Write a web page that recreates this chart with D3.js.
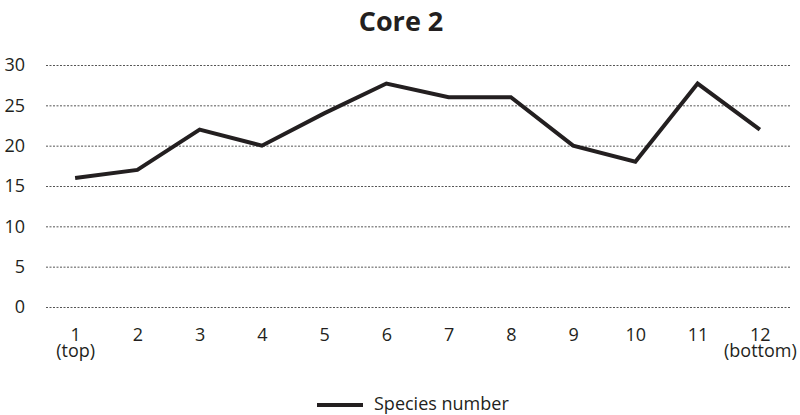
<!DOCTYPE html>
<html>
<head>
<meta charset="utf-8">
<script src="https://cdn.jsdelivr.net/npm/d3@7"></script>
<style>
  html, body { margin: 0; padding: 0; background: #fff; }
  svg { display: block; font-family: "Open Sans", "Noto Sans", sans-serif; }
</style>
</head>
<body>
<svg id="chart" width="800" height="415"></svg>
<script>
// Sample positions down the core and the species count at each
const samples = ["1", "2", "3", "4", "5", "6", "7", "8", "9", "10", "11", "12"];
const sampleNotes = ["(top)", "", "", "", "", "", "", "", "", "", "", "(bottom)"];
const speciesNumber = [16, 17, 22, 20, 24, 27.7, 26, 26, 20, 18, 27.7, 22];
const yTicks = [0, 5, 10, 15, 20, 25, 30];
const titleText = "Core 2";
const seriesName = "Species number";

const ink = "#231f20";
const svg = d3.select("#chart");

const x = d3.scalePoint().domain(samples).range([44, 791]).padding(0.5);
const y = d3.scaleLinear().domain([0, 30]).range([307, 65]);

// Title
svg.append("text")
  .attr("x", 401).attr("y", 31)
  .attr("text-anchor", "middle")
  .attr("font-size", 27).attr("font-weight", 700)
  .attr("fill", ink)
  .text(titleText);

// Horizontal dotted gridlines with value labels
const yAxis = d3.axisLeft(y).tickValues(yTicks).tickSize(-(791 - 46)).tickPadding(21);
const gy = svg.append("g").attr("transform", "translate(46,0)").call(yAxis)
  .attr("font-family", null).attr("font-size", null);
gy.select(".domain").remove();
gy.selectAll(".tick line")
  .attr("stroke", "#555").attr("stroke-width", 1)
  .attr("stroke-dasharray", "2,1.5");
gy.selectAll(".tick text")
  .attr("font-size", 18).attr("fill", ink);

// Category labels along the bottom, with the top/bottom notes on a second row
const xAxis = d3.axisBottom(x).tickSize(0).tickPadding(0);
const gx = svg.append("g").attr("transform", "translate(0,322)").call(xAxis)
  .attr("font-family", null).attr("font-size", null);
gx.select(".domain").remove();
gx.selectAll(".tick text").remove();
gx.selectAll(".tick").each(function (d, i) {
  const tick = d3.select(this);
  tick.append("text")
    .attr("text-anchor", "middle").attr("fill", ink)
    .attr("font-size", 18).attr("y", 19)
    .text(d);
  if (sampleNotes[i]) {
    tick.append("text")
      .attr("text-anchor", "middle").attr("fill", ink)
      .attr("font-size", 18).attr("y", 35)
      .text(sampleNotes[i]);
  }
});

// Species line
const line = d3.line()
  .x((d, i) => x(samples[i]))
  .y(d => y(d));
svg.append("path")
  .datum(speciesNumber)
  .attr("d", line)
  .attr("fill", "none")
  .attr("stroke", ink)
  .attr("stroke-width", 4)
  .attr("stroke-linejoin", "miter");

// Legend
const lg = svg.append("g").attr("transform", "translate(317,405)");
lg.append("line")
  .attr("x1", 0).attr("x2", 46).attr("y1", 0).attr("y2", 0)
  .attr("stroke", ink).attr("stroke-width", 4);
lg.append("text")
  .attr("x", 57).attr("y", 5)
  .attr("font-size", 18).attr("fill", ink)
  .text(seriesName);
</script>
</body>
</html>
